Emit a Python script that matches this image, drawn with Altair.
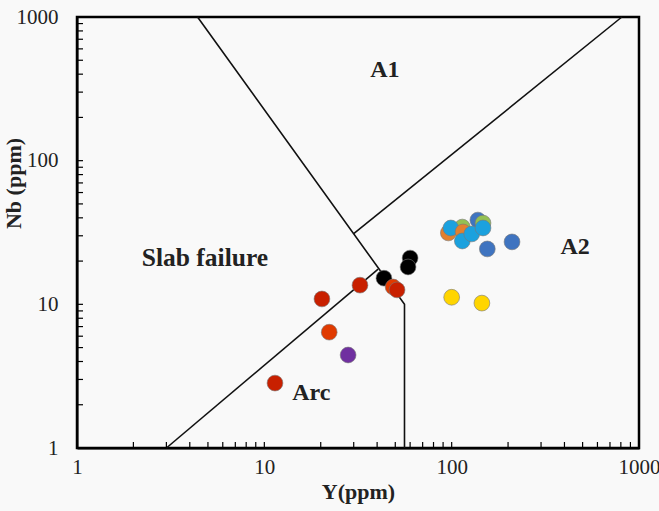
import altair as alt
import pandas as pd

# ---- data ----
pt_group = ["lblue", "lblue", "lblue", "lblue", "orange", "orange", "green", "green",
            "dblue", "dblue", "dblue", "yellow", "yellow",
            "red", "red", "black", "ored", "red", "black", "black",
            "ored", "purple", "red"]
pt_y = [99, 114, 128, 147, 96, 115, 114, 147,
        138, 155, 210, 100, 145,
        20.3, 32.4, 43.5, 48.7, 51.1, 60, 58.5,
        22.2, 28, 11.4]
pt_nb = [34.0, 27.6, 30.9, 34.0, 31.4, 31.9, 34.5, 36.8,
         38.6, 24.3, 27.2, 11.2, 10.2,
         10.9, 13.6, 15.2, 13.2, 12.6, 21, 18.2,
         6.4, 4.44, 2.83]
# draw order (back to front)
pt_order = [5, 9, 10, 11, 1, 6, 2, 3, 0, 4, 4, 7, 7, 8, 8, 8, 8, 8, 8, 8, 8, 8, 8]

group_domain = ["red", "ored", "black", "purple", "yellow", "lblue", "dblue", "orange", "green"]
group_colors = ["#C82000", "#E03A00", "#000000", "#7030A0", "#FFD500", "#1BA1DE", "#3F74C0", "#E2802E", "#93C052"]

seg_id = ["a", "a", "a", "b", "b", "c", "c"]
seg_x = [4.4, 56, 56, 3.0, 40.5, 30, 810]
seg_y = [1000, 10, 1, 1, 17.6, 31, 1000]
seg_ord = [0, 1, 2, 0, 1, 0, 1]

lab_text = ["A1", "Slab failure", "A2", "Arc"]
lab_x = [44, 4.82, 456, 17.8]
lab_y = [427, 21, 25, 2.41]

major_ticks = [1, 10, 100, 1000]
minor_ticks = [m * d for d in (1, 10, 100) for m in range(2, 10)]

W, H = 562, 431
FONT = "Liberation Serif"

pts = pd.DataFrame({"Y": pt_y, "Nb": pt_nb, "g": pt_group, "o": pt_order})
segs = pd.DataFrame({"id": seg_id, "x": seg_x, "y": seg_y, "o": seg_ord})
labs = pd.DataFrame({"t": lab_text, "x": lab_x, "y": lab_y})
ticks = pd.DataFrame({"v": minor_ticks + [10, 100]})

xs = alt.Scale(type="log", domain=[1, 1000], nice=False)
ys = alt.Scale(type="log", domain=[1, 1000], nice=False)

xaxis = alt.Axis(values=major_ticks, format="d", grid=False, ticks=False,
                 domainColor="black", domainWidth=2, labelFont=FONT, labelFontSize=21,
                 labelColor="#222", labelPadding=8, labelOverlap=False, labelFlush=False,
                 title="Y(ppm)", titleFont=FONT,
                 titleFontSize=22, titleFontWeight="bold", titleColor="#222",
                 titleY=43, titleBaseline="middle")
yaxis = alt.Axis(values=major_ticks, format="d", grid=False, ticks=False,
                 domainColor="black", domainWidth=2, labelFont=FONT, labelFontSize=21,
                 labelColor="#222", labelPadding=19, labelOverlap=False, labelFlush=False,
                 title="Nb (ppm)", titleFont=FONT,
                 titleFontSize=22, titleFontWeight="bold", titleColor="#222",
                 titleX=-64, titleY=166, titleAlign="center", titleBaseline="middle",
                 titleAngle=-90)

lines = alt.Chart(segs).mark_line(color="#111", strokeWidth=1.6).encode(
    x=alt.X("x:Q", scale=xs, axis=xaxis),
    y=alt.Y("y:Q", scale=ys, axis=yaxis),
    detail="id:N",
    order="o:Q",
)

points = alt.Chart(pts).mark_circle(size=250, opacity=1, stroke="#777", strokeWidth=0.6).encode(
    x=alt.X("Y:Q", scale=xs),
    y=alt.Y("Nb:Q", scale=ys),
    color=alt.Color("g:N", scale=alt.Scale(domain=group_domain, range=group_colors), legend=None),
    order="o:Q",
)

text_base = alt.Chart(labs).encode(
    x=alt.X("x:Q", scale=xs),
    y=alt.Y("y:Q", scale=ys),
    text="t:N",
)
texts_small = text_base.transform_filter(alt.datum.t != "Slab failure").mark_text(
    font=FONT, fontSize=24, fontWeight="bold", color="#222")
texts_big = text_base.transform_filter(alt.datum.t == "Slab failure").mark_text(
    font=FONT, fontSize=25.5, fontWeight="bold", color="#222")

yt = alt.Chart(ticks).mark_rule(color="black", strokeWidth=1.2).encode(
    y=alt.Y("v:Q", scale=ys), x=alt.value(0), x2=alt.value(6)
)
xt = alt.Chart(ticks).mark_rule(color="black", strokeWidth=1.2).encode(
    x=alt.X("v:Q", scale=xs), y=alt.value(H), y2=alt.value(H - 6)
)

chart = alt.layer(lines, xt, yt, points, texts_small, texts_big).properties(
    width=W, height=H,
    autosize=alt.AutoSizeParams(type="none"),
    padding={"left": 77, "top": 17, "right": 20, "bottom": 63},
    background="#f9f9f9",
).configure_view(stroke="black", strokeWidth=2.5)

chart.save("out.html", embed_options={"renderer": "svg", "actions": False})
